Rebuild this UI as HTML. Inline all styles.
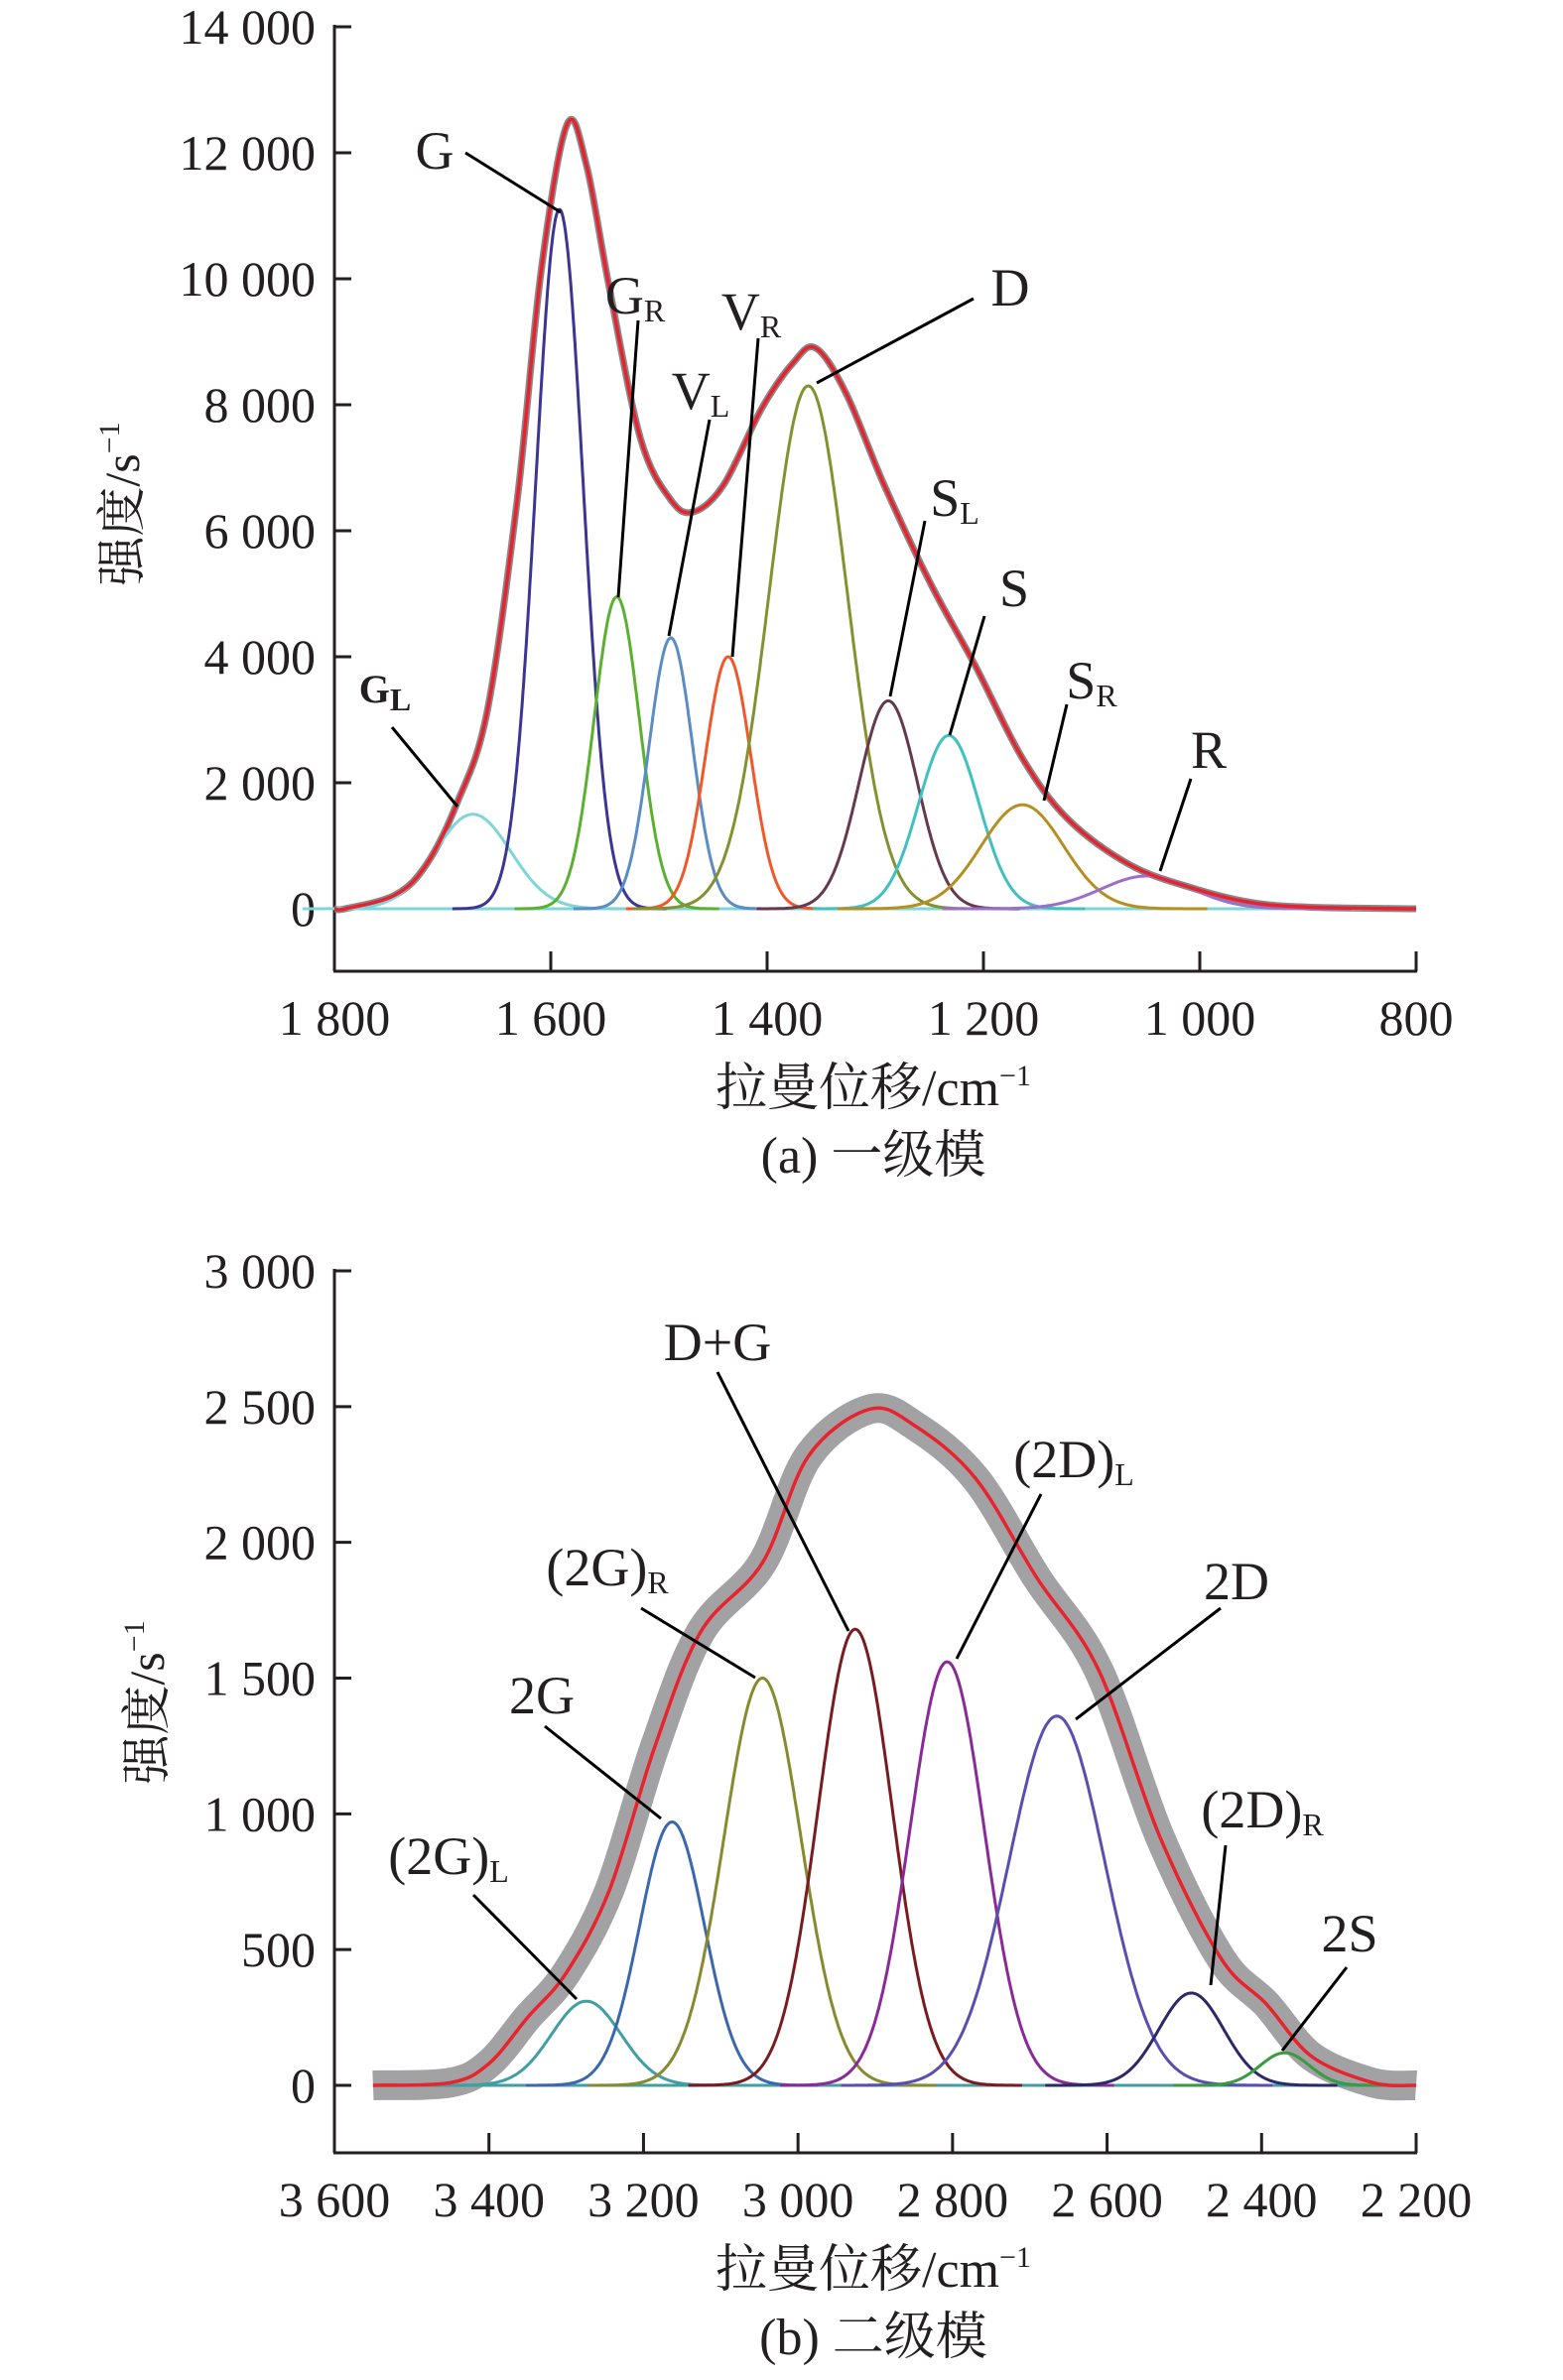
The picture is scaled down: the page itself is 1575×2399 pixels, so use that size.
<!DOCTYPE html>
<html><head><meta charset="utf-8">
<style>
html,body{margin:0;padding:0;background:#fff;}
svg{display:block;}
text{font-family:"Liberation Serif","Noto Serif CJK SC",serif;fill:#231f20;}
</style></head>
<body>
<svg id="chart" width="1575" height="2399" viewBox="0 0 1575 2399" xmlns="http://www.w3.org/2000/svg"></svg>
<script>
// ---------- Panel (a) data ----------
const aTicksX = [1800, 1600, 1400, 1200, 1000, 800];
const aTickLabelsX = ["1 800", "1 600", "1 400", "1 200", "1 000", "800"];
const aTicksY = [0, 2000, 4000, 6000, 8000, 10000, 12000, 14000];
const aTickLabelsY = ["0", "2 000", "4 000", "6 000", "8 000", "10 000", "12 000", "14 000"];
const aPeakNames = ["GL", "G", "GR", "VL", "VR", "D", "SL", "S", "SR", "R"];
const aPeakCenters = [1672, 1592, 1539, 1489, 1436, 1362, 1288, 1232, 1164, 1049];
const aPeakHeights = [1500, 11100, 4950, 4300, 4000, 8300, 3300, 2750, 1650, 520];
const aPeakSigmas = [35, 22, 21, 20, 21, 36, 27, 28, 38, 42];
const aEnvX = [1800, 1790, 1744, 1715, 1687, 1659, 1631, 1609, 1585, 1567, 1546, 1517, 1489, 1468, 1440, 1405, 1376, 1355, 1327, 1292, 1249, 1207, 1164, 1122, 1065, 1009, 953, 896, 800];
const aEnvY = [0, 0, 217, 700, 1665, 3114, 6490, 10110, 12450, 11800, 9870, 7460, 6490, 6300, 6735, 7940, 8665, 8900, 8180, 6735, 5165, 3840, 2390, 1425, 700, 340, 100, 24, 0];

// ---------- Panel (b) data ----------
const bTicksX = [3600, 3400, 3200, 3000, 2800, 2600, 2400, 2200];
const bTickLabelsX = ["3 600", "3 400", "3 200", "3 000", "2 800", "2 600", "2 400", "2 200"];
const bTicksY = [0, 500, 1000, 1500, 2000, 2500, 3000];
const bTickLabelsY = ["0", "500", "1 000", "1 500", "2 000", "2 500", "3 000"];
const bPeakNames = ["2GL", "2G", "2GR", "DG", "2DL", "2D", "2DR", "2S"];
const bPeakCenters = [3274, 3163, 3046, 2926, 2807, 2665, 2491, 2370];
const bPeakHeights = [310, 970, 1500, 1680, 1560, 1360, 340, 120];
const bPeakSigmas = [45, 42, 50, 48, 48, 62, 42, 32];
const bEnvX = [3550, 3450, 3400, 3350, 3300, 3244, 3185, 3126, 3046, 2987, 2908, 2849, 2770, 2691, 2611, 2532, 2453, 2394, 2335, 2256, 2200];
const bEnvY = [0, 10, 80, 250, 414, 720, 1250, 1670, 1925, 2316, 2490, 2430, 2235, 1870, 1530, 918, 470, 300, 106, 10, 0];

const NS = "http://www.w3.org/2000/svg";
const svg = document.getElementById("chart");
function mk(tag, attrs, parent) {
  const e = document.createElementNS(NS, tag);
  for (const k in attrs) e.setAttribute(k, attrs[k]);
  (parent || svg).appendChild(e);
  return e;
}
function smoothPath(P) {
  let d = "M" + P[0][0].toFixed(1) + "," + P[0][1].toFixed(1);
  for (let i = 0; i < P.length - 1; i++) {
    const p0 = P[Math.max(0, i - 1)], p1 = P[i], p2 = P[i + 1], p3 = P[Math.min(P.length - 1, i + 2)];
    const c1 = [p1[0] + (p2[0] - p0[0]) / 6, p1[1] + (p2[1] - p0[1]) / 6];
    const c2 = [p2[0] - (p3[0] - p1[0]) / 6, p2[1] - (p3[1] - p1[1]) / 6];
    d += " C" + c1[0].toFixed(1) + "," + c1[1].toFixed(1) + " " + c2[0].toFixed(1) + "," + c2[1].toFixed(1) + " " + p2[0].toFixed(1) + "," + p2[1].toFixed(1);
  }
  return d;
}

function panel(cfg) {
  const g = mk("g", {});
  
  
  const sx = v => cfg.x0 + (cfg.xMax - v) / (cfg.xMax - cfg.xMin) * (cfg.x1 - cfg.x0);
  const sy = v => cfg.y0 - (v - cfg.yMin) / (cfg.yMax - cfg.yMin) * (cfg.y0 - cfg.yTop);

  const ya = mk("line", {x1: cfg.x0, y1: cfg.yTop - 2, x2: cfg.x0, y2: cfg.bottom, stroke: "#231f20", "stroke-width": 3}, g);
  
  
  const xa = mk("line", {x1: cfg.x0 - 1, y1: cfg.bottom, x2: cfg.x1 + 1, y2: cfg.bottom, stroke: "#231f20", "stroke-width": 3}, g);
  
  

  cfg.ticksY.forEach((v, i) => {
    const y = sy(v);
    const t = mk("line", {x1: cfg.x0, y1: y, x2: cfg.x0 + 17, y2: y, stroke: "#231f20", "stroke-width": 3}, g);
    
    
    const l = mk("text", {x: 318, y: y + 17, "font-size": 50, "text-anchor": "end"}, g);
    l.textContent = cfg.labelsY[i];
    
    
  });
  cfg.ticksX.forEach((v, i) => {
    const x = sx(v);
    const t = mk("line", {x1: x, y1: cfg.bottom, x2: x, y2: cfg.bottom - 20, stroke: "#231f20", "stroke-width": 3}, g);
    
    
    const l = mk("text", {x: x, y: cfg.bottom + 64, "font-size": 50, "text-anchor": "middle"}, g);
    l.textContent = cfg.labelsX[i];
    
    
  });

  const envP = cfg.envX.map((v, i) => [sx(v), sy(cfg.envY[i])]);
  const envD = smoothPath(envP);
  const meas = mk("path", {d: envD, fill: "none", stroke: "#7a7b7e", "stroke-width": cfg.noiseW, "stroke-opacity": cfg.noiseOp, "stroke-linejoin": "round"}, g);
  
  

  const bl = mk("line", {x1: sx(cfg.xStart), y1: sy(0), x2: cfg.x1, y2: sy(0), stroke: cfg.baseColor, "stroke-width": 3}, g);
  
  

  cfg.centers.forEach((c, i) => {
    const pts = [];
    for (let k = 0; k <= 400; k++) {
      const v = c - 4.5 * cfg.sigmas[i] + k * 9 * cfg.sigmas[i] / 400;
      const val = cfg.heights[i] * Math.exp(-0.5 * Math.pow((v - c) / cfg.sigmas[i], 2));
      pts.push(sx(v).toFixed(1) + "," + sy(val).toFixed(1));
    }
    const p = mk("polyline", {points: pts.join(" "), fill: "none", stroke: cfg.colors[i], "stroke-width": 3}, g);
    
    
  });

  const env = mk("path", {d: envD, fill: "none", stroke: "#e8232d", "stroke-width": 3.5, "stroke-linejoin": "round"}, g);
  
  

  cfg.labels.forEach(L => {
    const ln = mk("line", {x1: L.l[0], y1: L.l[1] + cfg.dy, x2: L.l[2], y2: L.l[3] + cfg.dy, stroke: "#000", "stroke-width": 3}, g);
    
    
    const t = mk("text", {x: L.x, y: L.y + cfg.dy, "font-size": L.fs || 54, "text-anchor": "middle", "font-weight": L.bold ? "bold" : "normal"}, g);
    
    
    t.appendChild(document.createTextNode(L.t));
    if (L.sub) {
      const s = mk("tspan", {"font-size": 32, dy: 8}, t);
      s.textContent = L.sub;
    }
  });

  const yt = mk("text", {x: 0, y: 0, "font-size": 50, "text-anchor": "middle", transform: `translate(${cfg.ytX},${cfg.ytY}) rotate(-90)`}, g);
  
  
  yt.appendChild(document.createTextNode("强度/s"));
  const ys = mk("tspan", {"font-size": 30, dy: -20}, yt);
  ys.textContent = "−1";
  const xt = mk("text", {x: 880, y: cfg.bottom + 135, "font-size": 52, "text-anchor": "middle"}, g);
  
  
  xt.appendChild(document.createTextNode("拉曼位移/cm"));
  const xs = mk("tspan", {"font-size": 30, dy: -20}, xt);
  xs.textContent = "−1";
  const cap = mk("text", {x: 880, y: cfg.bottom + 203, "font-size": 52, "text-anchor": "middle"}, g);
  
  
  cap.textContent = cfg.caption;
}

panel({
  name: "panel-a-first-order", x0: 337, x1: 1427, xMax: 1800, xMin: 800, xStart: 1790,
  y0: 916, yTop: 27, yMin: 0, yMax: 14000, bottom: 979, dy: -2,
  ticksX: aTicksX, labelsX: aTickLabelsX, ticksY: aTicksY, labelsY: aTickLabelsY,
  peakNames: aPeakNames, centers: aPeakCenters, heights: aPeakHeights, sigmas: aPeakSigmas,
  colors: ["#7fd6d9", "#3b3594", "#5bb031", "#5b8cc4", "#f0582a", "#849130", "#66394f", "#3fc1c0", "#b68f22", "#9b6fc8"],
  envX: aEnvX, envY: aEnvY, noiseW: 7, noiseOp: 0.9, baseColor: "#7fd6d9",
  ytX: 140, ytY: 508, caption: "(a) 一级模",
  labels: [
    {t: "G", x: 438, y: 172, l: [469, 156, 565, 216]},
    {t: "G", sub: "R", x: 640, y: 318, l: [643, 325, 623, 604]},
    {t: "V", sub: "L", x: 706, y: 414, l: [715, 425, 674, 643]},
    {t: "V", sub: "R", x: 757, y: 334, l: [764, 343, 738, 664]},
    {t: "D", x: 1018, y: 310, l: [981, 303, 823, 388]},
    {t: "S", sub: "L", x: 962, y: 522, l: [932, 527, 897, 704]},
    {t: "S", x: 1022, y: 613, l: [992, 623, 957, 743]},
    {t: "S", sub: "R", x: 1100, y: 706, l: [1075, 712, 1052, 809]},
    {t: "R", x: 1218, y: 776, l: [1200, 787, 1169, 880]},
    {t: "G", sub: "L", x: 388, y: 710, l: [395, 735, 461, 815], bold: true, fs: 40}
  ]
});

panel({
  name: "panel-b-second-order", x0: 337, x1: 1427, xMax: 3600, xMin: 2200, xStart: 3550,
  y0: 2102, yTop: 1281, yMin: 0, yMax: 3000, bottom: 2170, dy: -9,
  ticksX: bTicksX, labelsX: bTickLabelsX, ticksY: bTicksY, labelsY: bTickLabelsY,
  peakNames: bPeakNames, centers: bPeakCenters, heights: bPeakHeights, sigmas: bPeakSigmas,
  colors: ["#3f9fa3", "#3a67ae", "#878a2f", "#7a1b1f", "#8a2a97", "#5a4fb0", "#2b2a66", "#3a9a3e"],
  envX: bEnvX, envY: bEnvY, noiseW: 30, noiseOp: 0.7, baseColor: "#3f9fa3",
  ytX: 165, ytY: 1716, caption: "(b) 二级模",
  labels: [
    {t: "D+G", x: 723, y: 1380, l: [723, 1392, 855, 1653]},
    {t: "(2D)", sub: "L", x: 1082, y: 1498, l: [1049, 1515, 964, 1681]},
    {t: "2D", x: 1246, y: 1621, l: [1230, 1630, 1084, 1742]},
    {t: "(2G)", sub: "R", x: 612, y: 1607, l: [646, 1630, 761, 1700]},
    {t: "2G", x: 546, y: 1736, l: [549, 1749, 666, 1842]},
    {t: "(2G)", sub: "L", x: 452, y: 1898, l: [477, 1919, 581, 2024]},
    {t: "(2D)", sub: "R", x: 1272, y: 1851, l: [1235, 1869, 1220, 2010]},
    {t: "2S", x: 1360, y: 1976, l: [1357, 1992, 1292, 2076]}
  ]
});
</script>
</body></html>
